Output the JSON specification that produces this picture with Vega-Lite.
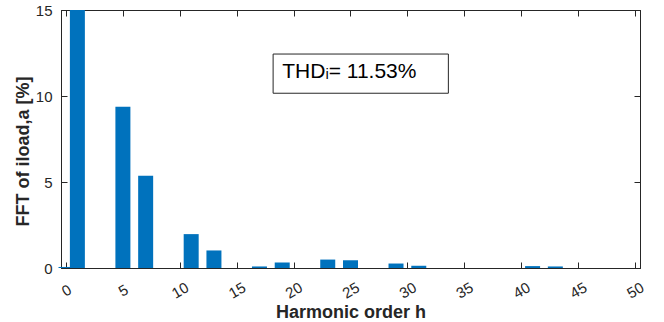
{
  "$schema": "https://vega.github.io/schema/vega-lite/v6.json",
  "width": 579,
  "height": 258,
  "autosize": "none",
  "padding": {"left": 61, "top": 10, "right": 24, "bottom": 54},
  "background": "white",
  "config": {
    "font": "Liberation Sans",
    "view": {"stroke": "#262626", "strokeWidth": 1},
    "axis": {
      "domainColor": "#262626",
      "tickColor": "#262626",
      "labelColor": "#262626",
      "titleColor": "#262626",
      "grid": false,
      "labelFont": "Liberation Sans",
      "titleFont": "Liberation Sans",
      "labelFontSize": 15,
      "titleFontSize": 18,
      "titleFontWeight": "bold",
      "tickSize": -6,
      "domainWidth": 1,
      "tickWidth": 1
    }
  },
  "datasets": {
    "fft": [
      {"h": 0, "value": 0.06},
      {"h": 1, "value": 100},
      {"h": 5, "value": 9.38},
      {"h": 7, "value": 5.37},
      {"h": 11, "value": 1.97},
      {"h": 13, "value": 1.02},
      {"h": 17, "value": 0.09},
      {"h": 19, "value": 0.32},
      {"h": 23, "value": 0.49},
      {"h": 25, "value": 0.45},
      {"h": 29, "value": 0.26},
      {"h": 31, "value": 0.13},
      {"h": 41, "value": 0.11},
      {"h": 43, "value": 0.09}
    ]
  },
  "layer": [
    {
      "data": {"name": "fft"},
      "transform": [{"filter": "datum.h > 0"}],
      "mark": {"type": "bar", "color": "#0072BD", "size": 15, "clip": true},
      "encoding": {
        "x": {
          "field": "h", "type": "quantitative",
          "scale": {"domain": [0, 50], "nice": false, "zero": false},
          "axis": {
            "orient": "bottom",
            "values": [0, 5, 10, 15, 20, 25, 30, 35, 40, 45, 50],
            "labelAngle": -30,
            "labelAlign": "center",
            "labelBaseline": "middle",
            "labelPadding": 28,
            "title": "Harmonic order h",
            "titlePadding": 2
          }
        },
        "y": {
          "field": "value", "type": "quantitative",
          "scale": {"domain": [0, 15], "nice": false},
          "axis": {
            "orient": "left",
            "values": [0, 5, 10, 15],
            "labelPadding": 15,
            "title": "FFT of iload,a [%]",
            "titlePadding": 3,
            "titleY": 141
          }
        }
      }
    },
    {
      "data": {"name": "fft"},
      "transform": [{"filter": "datum.h == 0"}],
      "mark": {"type": "bar", "color": "#0072BD", "size": 15, "clip": false},
      "encoding": {
        "x": {
          "field": "h", "type": "quantitative",
          "axis": {"orient": "top", "values": [0, 5, 10, 15, 20, 25, 30, 35, 40, 45, 50], "labels": false, "title": null}
        },
        "y": {
          "field": "value", "type": "quantitative",
          "axis": {"orient": "right", "values": [0, 5, 10, 15], "labels": false, "title": null}
        }
      }
    },
    {
      "data": {"values": [{}]},
      "mark": {"type": "rect", "fill": "white", "stroke": "#262626", "strokeWidth": 1},
      "encoding": {
        "x": {"datum": 18.2, "type": "quantitative", "axis": null},
        "x2": {"datum": 33.6},
        "y": {"datum": 12.44, "type": "quantitative", "axis": null},
        "y2": {"datum": 10.16}
      }
    },
    {
      "data": {"values": [{"label": "THDᵢ= 11.53%"}]},
      "mark": {"type": "text", "align": "left", "baseline": "alphabetic", "fontSize": 21, "color": "#000000", "font": "Liberation Sans"},
      "encoding": {
        "text": {"field": "label"},
        "x": {"datum": 19.0, "type": "quantitative", "axis": null},
        "y": {"datum": 11.03, "type": "quantitative", "axis": null}
      }
    }
  ],
  "resolve": {"axis": {"x": "independent", "y": "independent"}}
}
